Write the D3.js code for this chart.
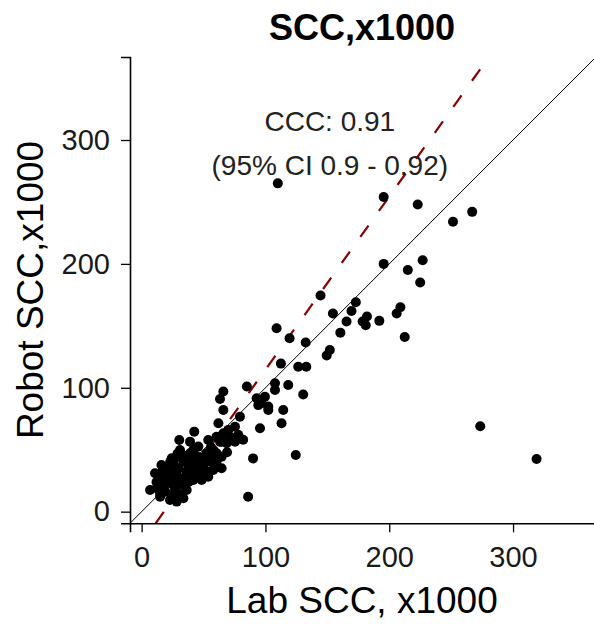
<!DOCTYPE html>
<html>
<head>
<meta charset="utf-8">
<script src="https://cdn.jsdelivr.net/npm/d3@7"></script>
<style>
  body { margin: 0; background: #fff; }
  svg { font-family: "Liberation Sans", Arial, sans-serif; }
  .tick text { font-size: 29px; fill: #1a1a1a; }
  .tick line, .domain { stroke: #000; }
</style>
</head>
<body>
<svg id="chart"></svg>
<script>
// Lab SCC (x1000) vs Robot SCC (x1000)
const labScc = [
  110, 195.5, 223, 267, 251.5, 195.5, 227, 215, 225, 144.5,
  173, 169.5, 154.5, 182, 165.5, 178.5, 181, 192, 209, 206,
  212.5, 160.5, 152, 149.5, 132.5, 119.5, 109, 112.5, 126.5, 133,
  273.5, 319,
  85, 66, 63.3, 107.7, 118.4, 130.5, 92.9, 99.6, 96.9, 94.2,
  102.3, 107.7, 102.3, 114.4, 66, 79.4, 113, 95.6, 62, 75.4,
  70, 66, 71.3, 78, 82, 64.6, 60.5, 75.4, 68.7, 79.4,
  90, 124.5, 64.6, 86, 42.5, 30.4, 39.1, 41.7, 63.3, 64.6,
  55.2, 53.8, 57.9, 52.5, 47.1, 60.5, 41.7, 39.1, 31, 24.3,
  16, 13.5, 10.8, 12.2, 6.8, 14.9, 14.9, 22.9, 28.3, 33.7,
  27, 36.4, 33.7, 41.7, 48.5, 53.8, 57.9, 48.5, 33.7, 28.3,
  20.3, 22.9, 36.4, 45.8, 60.6, 53.8,
  18, 25, 30, 35, 26, 20, 30, 38, 45, 40,
  44, 35, 28, 16, 24, 31, 19, 25, 12, 45, 50,
  21, 27, 33, 37, 43, 50, 56, 17, 23, 29, 38, 47, 58, 69
];
const robotScc = [
  265, 254, 248, 242, 234, 200, 203, 195, 185, 174.5,
  169, 162, 160, 157.5, 153.5, 153.5, 150.5, 154, 165, 160,
  141, 144.5, 130.5, 126, 136.5, 140, 148, 119.5, 117, 117,
  69, 42.5,
  101, 97, 91, 103.6, 102.3, 94.5, 91.5, 92.8, 87.5, 86,
  84.8, 98.2, 82, 82, 82, 76.7, 71.3, 67.3, 71.3, 68.6,
  66, 63.3, 60.5, 62, 58, 56.5, 60.5, 56.5, 55.2, 59.2,
  43, 45.8, 35, 12, 64.6, 57.9, 56.5, 49.8, 56.5, 44.4,
  40.4, 32.3, 49.8, 47.1, 43.1, 40.4, 39.1, 47.1, 49.8, 43.1,
  37.7, 29.6, 31, 18.9, 17.5, 12.1, 14.9, 9.4, 8.1, 10.8,
  16.1, 17.5, 21.5, 25.6, 25.6, 28.2, 33.7, 32.3, 40.4, 32.3,
  24.2, 31, 32.3, 52.5, 47.1, 57.9,
  20, 22, 27, 28, 38, 30, 35, 36, 38, 30,
  45, 45, 44, 26, 14, 14, 16, 26, 24, 30, 38,
  35, 20, 24, 42, 34, 44, 52, 33, 40, 47, 24, 29, 45, 48
];
const xTicks = [0, 100, 200, 300];
const yTicks = [0, 100, 200, 300];
const axisLimits = [-9.4, 367];
// fitted line: robot = a + b * lab
const fitIntercept = -25.2;
const fitSlope = 1.398;
const cccLines = ["CCC: 0.91", "(95% CI 0.9 - 0.92)"];

const data = labScc.map((d, i) => ({lab: d, robot: robotScc[i]}));

const W = 594, H = 624;
const svg = d3.select("#chart").attr("width", W).attr("height", H);

const x = d3.scaleLinear().domain(axisLimits).range([130, 596]);
const y = d3.scaleLinear().domain(axisLimits).range([523.3, 57]);

svg.append("clipPath").attr("id", "panel")
   .append("rect")
   .attr("x", 130).attr("y", 50)
   .attr("width", 466).attr("height", 473.3);

const plot = svg.append("g").attr("clip-path", "url(#panel)");

// identity line
plot.append("line")
    .attr("x1", x(axisLimits[0])).attr("y1", y(axisLimits[0]))
    .attr("x2", x(axisLimits[1])).attr("y2", y(axisLimits[1]))
    .attr("stroke", "#000")
    .attr("stroke-width", 1);

// dashed fit line
const fitX0 = (axisLimits[0] - fitIntercept) / fitSlope;
const fitX1 = (axisLimits[1] - fitIntercept) / fitSlope;
plot.append("line")
    .attr("x1", x(fitX0)).attr("y1", y(fitIntercept + fitSlope * fitX0))
    .attr("x2", x(fitX1)).attr("y2", y(fitIntercept + fitSlope * fitX1))
    .attr("stroke", "#8b0000")
    .attr("stroke-width", 2.2)
    .attr("stroke-dasharray", "14,18");

plot.selectAll(".dot")
    .data(data)
    .enter()
    .append("circle")
    .attr("class", "dot")
    .attr("cx", d => x(d.lab))
    .attr("cy", d => y(d.robot))
    .attr("r", 5)
    .attr("fill", "#000");

// axes
svg.append("g")
   .attr("transform", `translate(0,${y(axisLimits[0])})`)
   .call(d3.axisBottom(x).tickValues(xTicks).tickSizeOuter(0).tickSize(9).tickPadding(14))
   .call(g => g.selectAll(".tick line").attr("stroke-width", 1.3))
   .call(g => g.select(".domain").attr("stroke-width", 1.6));

svg.append("g")
   .attr("transform", `translate(${x(axisLimits[0])},0)`)
   .call(d3.axisLeft(y).tickValues(yTicks).tickSizeOuter(0).tickSize(9).tickPadding(11))
   .call(g => g.selectAll(".tick line").attr("stroke-width", 1.3))
   .call(g => g.select(".domain").attr("stroke-width", 1.6));

// annotation
svg.append("text")
   .attr("x", x(152)).attr("y", y(315))
   .attr("dy", "0.35em")
   .attr("text-anchor", "middle")
   .attr("font-size", 28)
   .attr("fill", "#222")
   .text(cccLines[0]);
svg.append("text")
   .attr("x", x(152)).attr("y", y(280))
   .attr("dy", "0.35em")
   .attr("text-anchor", "middle")
   .attr("font-size", 28)
   .attr("fill", "#222")
   .text(cccLines[1]);

// titles
svg.append("text")
   .attr("x", 362).attr("y", 40)
   .attr("text-anchor", "middle")
   .attr("font-size", 36)
   .attr("font-weight", "bold")
   .text("SCC,x1000");

svg.append("text")
   .attr("x", 362).attr("y", 613)
   .attr("text-anchor", "middle")
   .attr("font-size", 37)
   .text("Lab SCC, x1000");

svg.append("text")
   .attr("transform", "translate(43,290) rotate(-90)")
   .attr("text-anchor", "middle")
   .attr("font-size", 37)
   .text("Robot SCC,x1000");
</script>
</body>
</html>
